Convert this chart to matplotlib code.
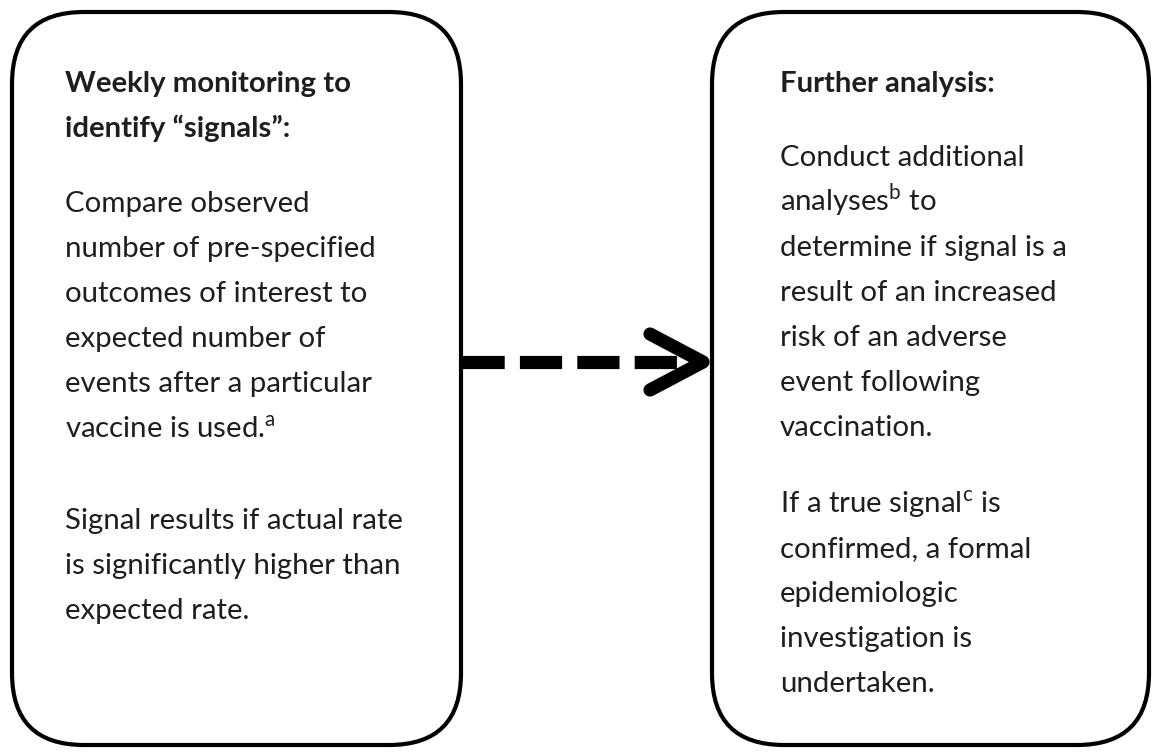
import matplotlib
matplotlib.use("Agg")
import matplotlib.pyplot as plt
from matplotlib.patches import FancyBboxPatch

plt.rcParams['font.family'] = ['Lato', 'DejaVu Sans']
plt.rcParams['mathtext.fontset'] = 'custom'
plt.rcParams['mathtext.rm'] = 'Lato'

# text of the two boxes
left_title = ["Weekly monitoring to", "identify \u201csignals\u201d:"]
left_body1 = ["Compare observed", "number of pre-specified", "outcomes of interest to",
              "expected number of", "events after a particular",
              "vaccine is used.$^{\\mathrm{a}}$"]
left_body2 = ["Signal results if actual rate", "is significantly higher than",
              "expected rate."]
right_title = ["Further analysis:"]
right_body1 = ["Conduct additional", "analyses$^{\\mathrm{b}}$ to",
               "determine if signal is a", "result of an increased",
               "risk of an adverse", "event following", "vaccination."]
right_body2 = ["If a true signal$^{\\mathrm{c}}$ is", "confirmed, a formal",
               "epidemiologic", "investigation is", "undertaken."]

W, H = 1156, 752
fig = plt.figure(figsize=(W / 100, H / 100), dpi=100)
ax = fig.add_axes([0, 0, 1, 1])
ax.set_xlim(0, W)
ax.set_ylim(H, 0)
ax.axis('off')

# rounded boxes
for x0, x1 in [(12, 461), (712, 1149)]:
    box = FancyBboxPatch((x0, 12), x1 - x0, 733,
                         boxstyle="round,pad=0,rounding_size=72",
                         fc='white', ec='black', lw=3.0)
    ax.add_patch(box)

txtc = '#1e1e1e'
fs = 21.2
step = 45


def put(lines, x, y0, bold=False):
    for i, s in enumerate(lines):
        ax.text(x, y0 + i * step, s, fontsize=fs, color=txtc, va='baseline',
                ha='left', fontweight='bold' if bold else 'normal')


put(left_title, 65, 92, bold=True)
put(left_body1, 65, 212)
put(left_body2, 65, 529)
put(right_title, 780, 92, bold=True)
put(right_body1, 780, 166)
put(right_body2, 780, 512)

# dashed arrow
ax.plot([462, 700], [362, 362], color='black', lw=9.5, solid_capstyle='butt',
        dash_capstyle='butt', dashes=(3.2, 1.15))
ax.plot([650, 703, 650], [334, 362, 390], color='black', lw=9.5,
        solid_capstyle='round', solid_joinstyle='round')

fig.savefig('out.png', dpi=100, facecolor='white')
